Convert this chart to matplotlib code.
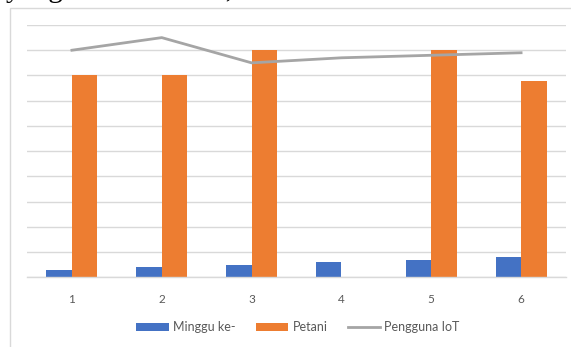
import matplotlib.pyplot as plt
import numpy as np
from matplotlib.patches import Rectangle

categories = ['1', '2', '3', '4', '5', '6']
minggu = [3, 4, 5, 6, 7, 8]
petani = [80, 80, 90, 0, 90, 78]
pengguna = [90, 95, 85, 87, 88, 89]

plt.rcParams['font.family'] = ['Lato', 'DejaVu Sans']

fig = plt.figure(figsize=(5.71, 3.47), dpi=100)
W, H = 571, 347

# chart box border (runs off the right and bottom edges)
fig.patches.append(Rectangle((9.5 / W, -0.1), 1.2, 1 - 7.5 / H + 0.1,
                             transform=fig.transFigure, fill=False,
                             edgecolor='#d9d9d9', linewidth=1.0))

# caption text cut off at top of the image
fig.text(6 / W, 1 + 3 / H, 'yang tersedia tidak, Gambar 4.', family='Liberation Serif',
         fontsize=21, color='black', ha='left', va='baseline')

ax = fig.add_axes([27 / W, 1 - 277.3 / H, 539 / W, 252.3 / H])
x = np.arange(len(categories))
bw = 0.284

ax.bar(x - bw / 2, minggu, bw, color='#4472c4', label='Minggu ke-', zorder=2)
ax.bar(x + bw / 2, petani, bw, color='#ed7d31', label='Petani', zorder=2)
ax.plot(x, pengguna, color='#a5a5a5', linewidth=2.0, label='Pengguna IoT', zorder=3)

ax.set_xlim(-0.5, len(categories) - 0.5)
ax.set_ylim(0, 100)
ax.set_yticks(np.arange(0, 101, 10))
ax.set_yticklabels([])
ax.tick_params(axis='y', length=0)
ax.grid(axis='y', color='#d9d9d9', linewidth=1.0, zorder=0)
ax.set_axisbelow(True)

ax.set_xticks(x)
ax.set_xticklabels(categories, color='#595959', fontsize=8.5)
ax.tick_params(axis='x', length=0, pad=12)

for s in ['top', 'right', 'left']:
    ax.spines[s].set_visible(False)
ax.spines['bottom'].set_color('#d9d9d9')
ax.spines['bottom'].set_linewidth(1.0)

handles, labels = ax.get_legend_handles_labels()
order = [1, 2, 0]
fig.legend([handles[i] for i in order], [labels[i] for i in order],
           loc='center', bbox_to_anchor=(298 / W, 20 / H), ncol=3, frameon=False,
           fontsize=9, labelcolor='#595959', handlelength=2.6, handleheight=0.6,
           handletextpad=0.35, columnspacing=1.6)

fig.savefig('out.png', dpi=100)
